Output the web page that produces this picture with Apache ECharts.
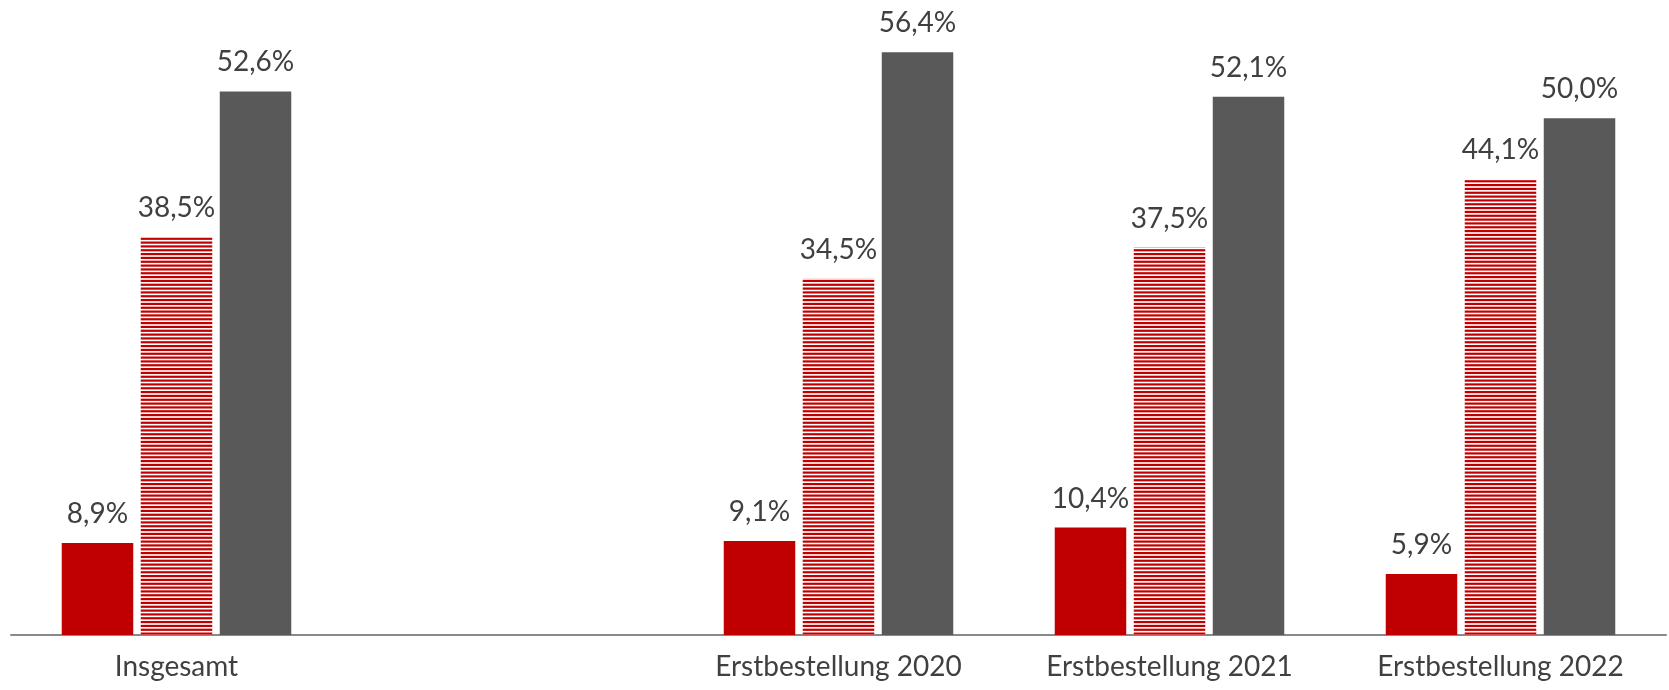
<!DOCTYPE html>
<html>
<head>
<meta charset="utf-8">
<script src="https://cdn.jsdelivr.net/npm/echarts@6/dist/echarts.min.js"></script>
<style>
  html, body { margin: 0; padding: 0; background: #ffffff; }
  #chart { width: 1669px; height: 690px; }
</style>
</head>
<body>
<div id="chart"></div>
<script>
// Categories along the x axis (the second slot is intentionally left blank)
const categories = ['Insgesamt', '', 'Erstbestellung 2020', 'Erstbestellung 2021', 'Erstbestellung 2022'];

// Shares in percent per group
const solidRed = [8.9, null, 9.1, 10.4, 5.9];
const stripedRed = [38.5, null, 34.5, 37.5, 44.1];
const darkGray = [52.6, null, 56.4, 52.1, 50.0];

const RED = '#C00000';
const GRAY = '#595959';
const TEXT = '#404040';
const FONT = 'Lato, "Noto Sans", sans-serif';

// Horizontal red/white stripe fill
function stripePattern() {
  const c = document.createElement('canvas');
  const stripes = 6;
  const h = 23;
  c.width = 8;
  c.height = h;
  const ctx = c.getContext('2d');
  ctx.fillStyle = '#ffffff';
  ctx.fillRect(0, 0, c.width, h);
  ctx.fillStyle = RED;
  for (let i = 0; i < stripes; i++) {
    ctx.fillRect(0, i * h / stripes, c.width, 2.2);
  }
  return c;
}

const fmt = p => p.value == null ? '' : p.value.toFixed(1).replace('.', ',') + '%';

const labelStyle = {
  show: true,
  position: 'top',
  distance: 15,
  color: TEXT,
  fontSize: 28,
  fontFamily: FONT,
  formatter: fmt
};

const chart = echarts.init(document.getElementById('chart'), null, { renderer: 'canvas' });

chart.setOption({
  animation: false,
  grid: { left: 11, right: 3, top: 15, bottom: 55, containLabel: false },
  xAxis: {
    type: 'category',
    data: categories,
    axisTick: { show: false },
    axisLine: { show: true, lineStyle: { color: '#898989', width: 2 } },
    axisLabel: {
      color: TEXT,
      fontSize: 28,
      fontFamily: FONT,
      margin: 18,
      interval: 0
    }
  },
  yAxis: {
    type: 'value',
    min: 0,
    max: 60,
    show: false,
    splitLine: { show: false }
  },
  series: [
    {
      name: 'rot',
      type: 'bar',
      data: solidRed,
      barWidth: 71.5,
      barGap: '10.5%',
      itemStyle: { color: RED },
      label: labelStyle
    },
    {
      name: 'rotGestreift',
      type: 'bar',
      data: stripedRed,
      barWidth: 71.5,
      barGap: '10.5%',
      itemStyle: { color: { image: stripePattern(), repeat: 'repeat' } },
      label: labelStyle
    },
    {
      name: 'grau',
      type: 'bar',
      data: darkGray,
      barWidth: 71.5,
      barGap: '10.5%',
      itemStyle: { color: GRAY },
      label: labelStyle
    }
  ]
});
</script>
</body>
</html>
